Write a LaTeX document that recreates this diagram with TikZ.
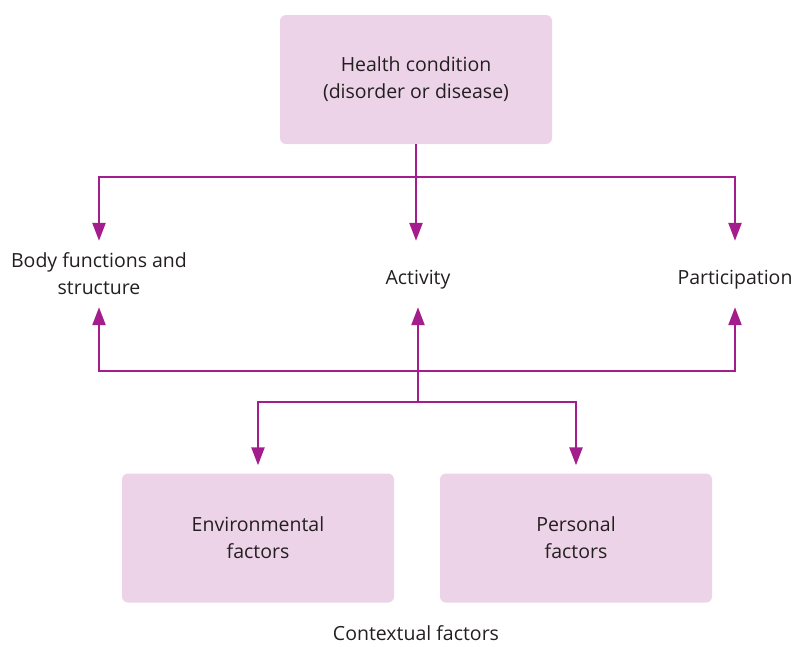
\documentclass[tikz,border=0pt]{standalone}
\usepackage{fontspec}
\setmainfont{Open Sans}
\usetikzlibrary{arrows.meta}
\usepackage{xcolor}
\definecolor{boxpink}{RGB}{237,211,232}
\definecolor{linkpurple}{RGB}{163,30,140}
\definecolor{txtgray}{RGB}{35,31,32}

\begin{document}
\begin{tikzpicture}[x=1pt,y=-1pt,
    every node/.style={text=txtgray,font=\fontsize{19.5}{27}\selectfont},
    box/.style={fill=boxpink,rounded corners=6pt,minimum width=272pt,minimum height=129pt,align=center},
    lbl/.style={align=center,minimum height=66pt,inner sep=0pt},
    link/.style={draw=linkpurple,line width=2.4pt,-{Triangle[width=13pt,length=18pt]}}]
      \useasboundingbox (0,0) rectangle (792,646);

      % Boites
      \node[box] (health) at (416,79.5) {Health condition\\(disorder or disease)};
      \node[box] (env) at (258,538) {Environmental\\factors};
      \node[box] (pers) at (576,538) {Personal\\factors};

      % Composantes
      \node[lbl] (body) at (99,274) {Body functions and\\structure};
      \node[lbl,text height=26pt] (act) at (418,274) {Activity};
      \node[lbl,text height=26pt] (part) at (735,274) {Participation};
      \node (ctx) at (416,633) {Contextual factors};

      % Jonctions
      \coordinate (split) at (416,177);
      \coordinate (join) at (418,371);
      \coordinate (fork) at (418,402);

      % Fleches du haut
      \draw[link] (health.south) -- (health.south |- act.north);
      \draw[link] (split) -| (body.north);
      \draw[link] (split) -| (part.north);

      % Fleches du bas
      \draw[link] (fork) -- (act.south);
      \draw[link] (join) -| (body.south);
      \draw[link] (join) -| (part.south);
      \draw[link,shorten >=8pt] (fork) -| (env.north);
      \draw[link,shorten >=8pt] (fork) -| (pers.north);
    \end{tikzpicture}
\end{document}
